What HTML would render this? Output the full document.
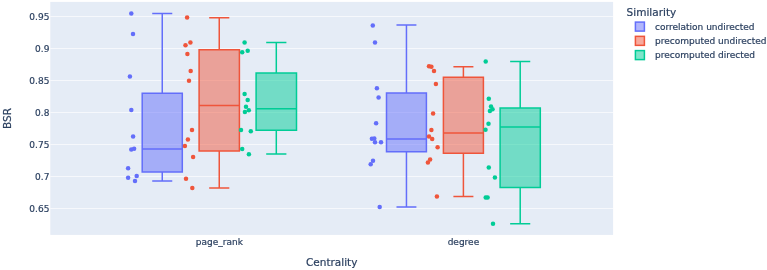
<!DOCTYPE html>
<html><head><meta charset="utf-8"><title>BSR by Centrality</title>
<style>
html,body{margin:0;padding:0;background:#fff;}
svg{display:block;}
text{font-family:"DejaVu Sans","Liberation Sans",sans-serif;fill:#2a3f5f;stroke:#2a3f5f;stroke-width:0.2px;}
.t{font-size:9px;}
.h{font-size:10.5px;}
</style></head><body>
<svg width="767" height="270" viewBox="0 0 767 270">
<rect x="0" y="0" width="767" height="270" fill="#fff"/>
<rect x="50.3" y="1.9" width="562.8" height="233.0" fill="#E5ECF6"/>

<line x1="50.3" x2="613.1" y1="16.5" y2="16.5" stroke="#fff" stroke-width="0.75" stroke-opacity="0.85"/>
<line x1="50.3" x2="613.1" y1="48.5" y2="48.5" stroke="#fff" stroke-width="0.75" stroke-opacity="0.85"/>
<line x1="50.3" x2="613.1" y1="80.5" y2="80.5" stroke="#fff" stroke-width="0.75" stroke-opacity="0.85"/>
<line x1="50.3" x2="613.1" y1="112.5" y2="112.5" stroke="#fff" stroke-width="0.75" stroke-opacity="0.85"/>
<line x1="50.3" x2="613.1" y1="144.5" y2="144.5" stroke="#fff" stroke-width="0.75" stroke-opacity="0.85"/>
<line x1="50.3" x2="613.1" y1="176.5" y2="176.5" stroke="#fff" stroke-width="0.75" stroke-opacity="0.85"/>
<line x1="50.3" x2="613.1" y1="208.5" y2="208.5" stroke="#fff" stroke-width="0.75" stroke-opacity="0.85"/>
<g stroke="#636EFA" stroke-width="1.5" fill="#636EFA" fill-opacity="0.5"><path d="M142.2,148.9H182.3M142.2,172.0H182.3V93.2H142.2Z M162.25,172.0V181.1M162.25,93.2V13.5M152.22,181.1H172.28M152.22,13.5H172.28"/></g>
<g stroke="#EF553B" stroke-width="1.5" fill="#EF553B" fill-opacity="0.5"><path d="M199.1,105.5H239.4M199.1,151.1H239.4V49.7H199.1Z M219.25,151.1V188.0M219.25,49.7V17.7M209.18,188.0H229.32M209.18,17.7H229.32"/></g>
<g stroke="#00CC96" stroke-width="1.5" fill="#00CC96" fill-opacity="0.5"><path d="M256.1,108.8H296.5M256.1,130.3H296.5V73.0H256.1Z M276.30,130.3V154.1M276.30,73.0V42.5M266.20,154.1H286.40M266.20,42.5H286.40"/></g>
<g stroke="#636EFA" stroke-width="1.5" fill="#636EFA" fill-opacity="0.5"><path d="M386.5,139.0H426.4M386.5,151.7H426.4V93.0H386.5Z M406.45,151.7V206.9M406.45,93.0V25.0M396.48,206.9H416.42M396.48,25.0H416.42"/></g>
<g stroke="#EF553B" stroke-width="1.5" fill="#EF553B" fill-opacity="0.5"><path d="M443.4,133.1H483.4M443.4,153.3H483.4V77.3H443.4Z M463.40,153.3V196.6M463.40,77.3V66.8M453.40,196.6H473.40M453.40,66.8H473.40"/></g>
<g stroke="#00CC96" stroke-width="1.5" fill="#00CC96" fill-opacity="0.5"><path d="M500.1,126.9H540.3M500.1,187.5H540.3V107.9H500.1Z M520.20,187.5V223.8M520.20,107.9V61.4M510.15,223.8H530.25M510.15,61.4H530.25"/></g>
<g fill="#636EFA"><circle cx="131.3" cy="13.6" r="2.25"/><circle cx="133" cy="33.9" r="2.25"/><circle cx="129.9" cy="76.4" r="2.25"/><circle cx="131.3" cy="109.9" r="2.25"/><circle cx="133.1" cy="136.6" r="2.25"/><circle cx="134.1" cy="148.8" r="2.25"/><circle cx="131.3" cy="149.6" r="2.25"/><circle cx="128.1" cy="168.2" r="2.25"/><circle cx="136.7" cy="176" r="2.25"/><circle cx="128.1" cy="177.8" r="2.25"/><circle cx="135" cy="181.1" r="2.25"/><circle cx="372.8" cy="25.5" r="2.25"/><circle cx="375" cy="42.5" r="2.25"/><circle cx="376.9" cy="88.3" r="2.25"/><circle cx="378.6" cy="97.5" r="2.25"/><circle cx="376.1" cy="123.2" r="2.25"/><circle cx="371.9" cy="138.8" r="2.25"/><circle cx="374.3" cy="138.6" r="2.25"/><circle cx="375" cy="142.2" r="2.25"/><circle cx="381" cy="142.2" r="2.25"/><circle cx="373" cy="160.8" r="2.25"/><circle cx="370.7" cy="164.3" r="2.25"/><circle cx="379.7" cy="206.9" r="2.25"/></g>
<g fill="#EF553B"><circle cx="187.1" cy="17.6" r="2.25"/><circle cx="190.4" cy="42.6" r="2.25"/><circle cx="185.5" cy="45.3" r="2.25"/><circle cx="187.4" cy="54" r="2.25"/><circle cx="190.7" cy="71" r="2.25"/><circle cx="189" cy="80.8" r="2.25"/><circle cx="192" cy="130" r="2.25"/><circle cx="187.9" cy="139.4" r="2.25"/><circle cx="184.9" cy="146.1" r="2.25"/><circle cx="193.1" cy="156.9" r="2.25"/><circle cx="186" cy="178.8" r="2.25"/><circle cx="192.3" cy="188" r="2.25"/><circle cx="429" cy="66.3" r="2.25"/><circle cx="431.4" cy="66.8" r="2.25"/><circle cx="434" cy="71" r="2.25"/><circle cx="435.9" cy="83.9" r="2.25"/><circle cx="433.1" cy="113.6" r="2.25"/><circle cx="431.4" cy="129.9" r="2.25"/><circle cx="429" cy="136.6" r="2.25"/><circle cx="432.2" cy="139.1" r="2.25"/><circle cx="437.6" cy="147.2" r="2.25"/><circle cx="430.1" cy="159.4" r="2.25"/><circle cx="427.9" cy="162.5" r="2.25"/><circle cx="436.9" cy="196.6" r="2.25"/></g>
<g fill="#00CC96"><circle cx="244.6" cy="42.5" r="2.25"/><circle cx="247.7" cy="50.8" r="2.25"/><circle cx="242.2" cy="52.2" r="2.25"/><circle cx="244.6" cy="94.1" r="2.25"/><circle cx="247.7" cy="100" r="2.25"/><circle cx="246" cy="106.7" r="2.25"/><circle cx="248.8" cy="110.2" r="2.25"/><circle cx="244.9" cy="111.9" r="2.25"/><circle cx="241" cy="130" r="2.25"/><circle cx="250.8" cy="131.3" r="2.25"/><circle cx="242.2" cy="148.9" r="2.25"/><circle cx="248.9" cy="154.3" r="2.25"/><circle cx="485.7" cy="61.4" r="2.25"/><circle cx="488.8" cy="98.8" r="2.25"/><circle cx="491" cy="106.5" r="2.25"/><circle cx="492.5" cy="109.3" r="2.25"/><circle cx="489.9" cy="111" r="2.25"/><circle cx="488.5" cy="123.8" r="2.25"/><circle cx="485.5" cy="129.7" r="2.25"/><circle cx="488.8" cy="167.6" r="2.25"/><circle cx="494.9" cy="177.5" r="2.25"/><circle cx="485.7" cy="197.5" r="2.25"/><circle cx="487.6" cy="197.5" r="2.25"/><circle cx="493" cy="223.8" r="2.25"/></g>
<text class="t" x="49.4" y="19.8" text-anchor="end">0.95</text>
<text class="t" x="49.4" y="51.8" text-anchor="end">0.9</text>
<text class="t" x="49.4" y="83.8" text-anchor="end">0.85</text>
<text class="t" x="49.4" y="115.8" text-anchor="end">0.8</text>
<text class="t" x="49.4" y="147.8" text-anchor="end">0.75</text>
<text class="t" x="49.4" y="179.8" text-anchor="end">0.7</text>
<text class="t" x="49.4" y="211.8" text-anchor="end">0.65</text>
<text class="t" x="219.3" y="245.4" text-anchor="middle">page_rank</text>
<text class="t" x="463.4" y="245.4" text-anchor="middle">degree</text>
<text class="h" x="331.7" y="265.9" text-anchor="middle">Centrality</text>
<text class="h" transform="translate(10.7,118.5) rotate(-90)" text-anchor="middle">BSR</text>
<text class="h" x="626.6" y="15.8">Similarity</text>
<rect x="635.4" y="22.10" width="9" height="9" fill="#636EFA" fill-opacity="0.5" stroke="#636EFA" stroke-width="1.5"/>
<text class="t" x="655" y="29.90">correlation undirected</text>
<rect x="635.4" y="36.35" width="9" height="9" fill="#EF553B" fill-opacity="0.5" stroke="#EF553B" stroke-width="1.5"/>
<text class="t" x="655" y="44.15">precomputed undirected</text>
<rect x="635.4" y="50.60" width="9" height="9" fill="#00CC96" fill-opacity="0.5" stroke="#00CC96" stroke-width="1.5"/>
<text class="t" x="655" y="58.40">precomputed directed</text>
</svg></body></html>
